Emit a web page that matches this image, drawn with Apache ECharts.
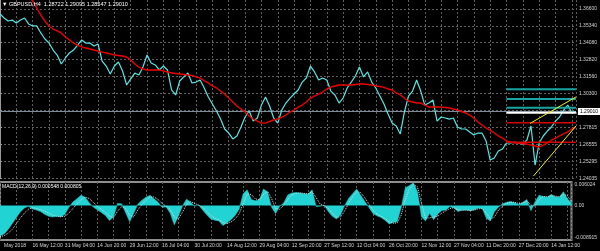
<!DOCTYPE html>
<html>
<head>
<meta charset="utf-8">
<script src="https://cdn.jsdelivr.net/npm/echarts@6/dist/echarts.min.js"></script>
<style>html,body{margin:0;padding:0;background:#000;}#c{width:600px;height:251px;}</style>
</head>
<body>
<div id="c"></div>
<script>
// ---- data ----
const headerOHLC = ['1.28722', '1.29095', '1.28547', '1.29010'];
const macdHeader = ['0.000548', '0.000805'];
const xLabels = ['May 2018','16 May 12:00','31 May 04:00','14 Jun 20:00','29 Jun 12:00','16 Jul 04:00','30 Jul 20:00','14 Aug 12:00','29 Aug 04:00','12 Sep 20:00','27 Sep 12:00','12 Oct 04:00','26 Oct 20:00','12 Nov 12:00','27 Nov 04:00','11 Dec 20:00','27 Dec 20:00','14 Jan 12:00'];
const yTickLabels = ['1.24035','1.25295','1.26555','1.27815','','1.30300','1.31560','1.32820','1.34080','1.35340','1.36600'];
const macdTickLabels = ['-0.008915', '0.00', '0.006024'];

const priceClose = [
1.3625,1.3595,1.3573,1.3580,1.3558,1.3580,1.3595,1.3551,1.3536,1.3536,
1.3484,1.3439,1.3409,1.3357,1.3320,1.3253,1.3298,1.3335,1.3357,1.3394,
1.3432,1.3409,1.3409,1.3387,1.3402,1.3275,1.3238,1.3179,1.3238,1.3268,
1.3201,1.3097,1.3142,1.3186,1.3171,1.3231,1.3320,1.3261,1.3246,1.3209,
1.3238,1.3209,1.3060,1.3023,1.3127,1.3157,1.3186,1.3112,1.3119,1.3134,
1.3075,1.3008,1.2956,1.2904,1.2844,1.2770,1.2740,1.2696,1.2718,1.2785,
1.2859,1.2904,1.2829,1.2852,1.2948,1.3008,1.2941,1.2852,1.2814,1.2911,
1.2963,1.3000,1.3030,1.3060,1.3119,1.3149,1.3238,1.3194,1.3134,1.3149,
1.3134,1.3052,1.3023,1.2963,1.3000,1.3075,1.3119,1.3164,1.3231,1.3157,
1.3194,1.3119,1.3075,1.3015,1.2956,1.2881,1.2814,1.2792,1.2733,1.2896,
1.3015,1.3052,1.3134,1.3052,1.2948,1.2963,1.2985,1.2829,1.2859,1.2852,
1.2844,1.2852,1.2785,1.2770,1.2770,1.2748,1.2725,1.2740,1.2740,1.2681,
1.2539,1.2554,1.2606,1.2621,1.2666,1.2666,1.2673,1.2666,1.2658,1.2688,
1.2792,1.2502,1.2666,1.2718,1.2755,1.2785,1.2829,1.2859,1.2911,1.2948,
1.2889,1.2901];

const maValues = [null,null,null,null,null,null,null,
1.3759,1.3722,1.3670,1.3617,1.3573,1.3536,1.3513,1.3499,1.3484,1.3454,
1.3432,1.3409,1.3394,1.3380,1.3372,1.3365,1.3357,1.3350,1.3342,1.3335,
1.3328,1.3320,1.3316,1.3313,1.3305,1.3283,1.3253,1.3231,1.3216,1.3209,
1.3209,1.3209,1.3209,1.3201,1.3194,1.3186,1.3183,1.3179,1.3175,1.3171,
1.3168,1.3157,1.3149,1.3127,1.3112,1.3090,1.3075,1.3052,1.3030,1.3000,
1.2971,1.2941,1.2919,1.2896,1.2867,1.2844,1.2829,1.2814,1.2814,1.2826,
1.2837,1.2844,1.2859,1.2874,1.2896,1.2911,1.2933,1.2948,1.2971,1.3000,
1.3015,1.3030,1.3045,1.3067,1.3082,1.3090,1.3097,1.3097,1.3097,1.3097,
1.3101,1.3105,1.3105,1.3101,1.3097,1.3090,1.3086,1.3079,1.3067,1.3060,
1.3038,1.3023,1.3000,1.2978,1.2971,1.2963,1.2963,1.2948,1.2933,1.2933,
1.2933,1.2933,1.2930,1.2926,1.2919,1.2911,1.2900,1.2889,1.2874,1.2852,
1.2822,1.2800,1.2777,1.2762,1.2740,1.2718,1.2703,1.2681,1.2673,1.2666,
1.2666,1.2662,1.2658,1.2651,1.2644,1.2636,1.2651,1.2666,1.2688,1.2703,
1.2718,1.2733,1.2748,1.2770,1.2785];

const macdHist = [
-0.0078,-0.0074,-0.0062,-0.0047,-0.0032,-0.0017,-0.0007,-0.0002,-0.0009,-0.0012,
-0.0016,-0.0023,-0.0028,-0.0030,-0.0028,-0.0030,-0.0023,-0.0005,0.0009,0.0017,
0.0026,0.0021,0.0007,-0.0004,-0.0011,-0.0018,-0.0026,-0.0039,-0.0030,0.0005,
0.0004,-0.0019,-0.0042,-0.0020,0.0003,0.0013,0.0021,0.0026,0.0017,0.0008,
-0.0005,-0.0004,-0.0020,-0.0050,-0.0028,-0.0002,0.0016,0.0009,-0.0002,0.0001,
-0.0012,-0.0024,-0.0035,-0.0038,-0.0040,-0.0052,-0.0045,-0.0037,-0.0026,-0.0010,
0.0030,0.0040,0.0015,0.0012,0.0014,0.0042,0.0035,-0.0005,-0.0021,-0.0002,
0.0006,0.0027,0.0032,0.0033,0.0032,0.0030,0.0029,0.0040,-0.0003,-0.0002,
0.0001,-0.0016,-0.0028,-0.0035,-0.0025,-0.0001,0.0018,0.0030,0.0042,0.0026,
0.0010,-0.0005,-0.0021,-0.0027,-0.0031,-0.0038,-0.0048,-0.0044,-0.0042,-0.0005,
0.0045,0.0051,0.0058,0.0035,-0.0030,-0.0040,-0.0020,-0.0037,-0.0022,-0.0013,
-0.0012,-0.0003,-0.0007,-0.0016,-0.0012,-0.0012,-0.0014,-0.0011,-0.0007,-0.0008,
-0.0033,-0.0040,-0.0016,-0.0004,0.0004,0.0008,0.0010,0.0007,0.0002,0.0008,
0.0015,-0.0014,0.0009,0.0026,0.0023,0.0021,0.0028,0.0022,0.0021,0.0035,
0.0017,0.0006];

const macdSignal = [
-0.0080,-0.0078,-0.0072,-0.0062,-0.0048,-0.0033,-0.0020,-0.0010,-0.0006,-0.0008,
-0.0011,-0.0015,-0.0020,-0.0025,-0.0028,-0.0029,-0.0028,-0.0020,-0.0008,0.0004,
0.0015,0.0021,0.0018,0.0008,-0.0002,-0.0010,-0.0018,-0.0027,-0.0032,-0.0015,
-0.0003,-0.0008,-0.0025,-0.0030,-0.0012,0.0002,0.0013,0.0021,0.0022,0.0015,
0.0005,-0.0002,-0.0010,-0.0030,-0.0035,-0.0018,0.0002,0.0010,0.0005,0.0001,
-0.0005,-0.0015,-0.0026,-0.0033,-0.0037,-0.0044,-0.0047,-0.0043,-0.0035,-0.0022,
0.0005,0.0030,0.0028,0.0017,0.0014,0.0028,0.0036,0.0018,-0.0008,-0.0010,
0.0000,0.0015,0.0027,0.0031,0.0032,0.0031,0.0030,0.0035,0.0020,0.0003,
-0.0001,-0.0008,-0.0020,-0.0030,-0.0030,-0.0015,0.0005,0.0022,0.0035,0.0033,
0.0020,0.0004,-0.0012,-0.0022,-0.0028,-0.0034,-0.0042,-0.0046,-0.0045,-0.0025,
0.0015,0.0042,0.0053,0.0048,0.0005,-0.0033,-0.0032,-0.0030,-0.0028,-0.0020,
-0.0014,-0.0008,-0.0006,-0.0011,-0.0013,-0.0012,-0.0013,-0.0012,-0.0009,-0.0008,
-0.0020,-0.0035,-0.0030,-0.0012,-0.0002,0.0005,0.0008,0.0008,0.0005,0.0006,
0.0011,0.0001,-0.0002,0.0015,0.0023,0.0022,0.0025,0.0024,0.0022,0.0028,
0.0025,0.0010];

const bidPrice = 1.29010;
const tealLevels = [1.3065, 1.2993, 1.2928];
const whiteLevels = [1.2891];
const redLevels = [1.2817, 1.2671];
const levelSpan = [124, 141];
const trendUpperX = [129.8, 141], trendUpperY = [1.2812, 1.3008];
const trendLowerX = [130.6, 141], trendLowerY = [1.2420, 1.2792];

// ---- chart ----
const FONT = 'Liberation Sans';
const TXT = '#d4d4d4';
const GRIDC = '#5e5e5e';
const idx = a => a.map((v, i) => [i, v]);

function levelSeries(levels, color, width) {
  return levels.map(l => ({
    type: 'line', xAxisIndex: 0, yAxisIndex: 0, silent: true, showSymbol: false, z: 5,
    data: levelSpan.map(x => [x, l]),
    lineStyle: { color: color, width: width }
  }));
}
function trendSeries(xs, ys) {
  return {
    type: 'line', xAxisIndex: 0, yAxisIndex: 0, silent: true, showSymbol: false, z: 6,
    data: xs.map((x, i) => [x, ys[i]]),
    lineStyle: { color: '#f2f200', width: 1 }
  };
}

const xCommon = {
  type: 'value', min: 0, max: 141, interval: 4,
  axisLine: { show: false }, axisTick: { show: false },
  splitLine: { show: true, lineStyle: { color: GRIDC, type: [2, 2], width: 1 } }
};

const chart = echarts.init(document.getElementById('c'), null, { renderer: 'canvas' });
chart.setOption({
  backgroundColor: '#000',
  animation: false,
  title: [
    { text: '\u25BC GBPUSD,H4  ' + headerOHLC.join(' '), left: 1, top: 0, padding: 1,
      textStyle: { color: '#ffffff', fontSize: 5.5, fontWeight: 'normal', fontFamily: FONT } },
    { text: 'MACD(12,26,9) ' + macdHeader.join(' '), left: 1, top: 183, padding: 1,
      textStyle: { color: '#ffffff', fontSize: 5, fontWeight: 'normal', fontFamily: FONT } }
  ],
  grid: [
    { left: -2, width: 578, top: 0, height: 178.3 },
    { left: -2, width: 578, top: 182, height: 58, show: true, borderColor: '#8e8e8e', borderWidth: 2 }
  ],
  xAxis: [
    Object.assign({}, xCommon, { gridIndex: 0, axisLabel: { show: false } }),
    Object.assign({}, xCommon, { gridIndex: 1,
      axisLabel: { show: true, color: TXT, fontSize: 5, fontFamily: FONT, align: 'left', margin: 3,
        formatter: v => {
          if (v % 8 !== 0) return '';
          const t = xLabels[v / 8];
          if (t === undefined) return '';
          return v === 0 ? '{f|' + t + '}' : t;
        },
        rich: { f: { padding: [0, 0, 0, 4], color: TXT, fontSize: 5, fontFamily: FONT } }
      } })
  ],
  yAxis: [
    { gridIndex: 0, type: 'value', position: 'right', min: 1.24035, max: 1.3729, interval: 0.0126,
      axisLine: { show: true, lineStyle: { color: '#9a9a9a', width: 1 } },
      axisTick: { show: true, length: 2, lineStyle: { color: '#9a9a9a' } },
      axisLabel: { color: TXT, fontSize: 5, fontFamily: FONT, margin: 3, showMaxLabel: false,
        formatter: v => { const k = Math.round((v - 1.24035) / 0.0126); return yTickLabels[k] || ''; } },
      splitLine: { show: true, showMaxLine: false, lineStyle: { color: GRIDC, type: [2, 2], width: 1 } }
    },
    { gridIndex: 1, type: 'value', position: 'right', min: -0.008915, max: 0.006024, interval: 0.008915,
      axisLine: { show: false }, axisTick: { show: false },
      axisLabel: { color: TXT, fontSize: 5, fontFamily: FONT, margin: 3,
        verticalAlignMinLabel: 'bottom', verticalAlignMaxLabel: 'top',
        formatter: v => v < -0.001 ? macdTickLabels[0] : (v > 0.001 ? macdTickLabels[2] : macdTickLabels[1]) },
      splitLine: { show: false }
    }
  ],
  series: [
    { name: 'GBPUSD', type: 'line', xAxisIndex: 0, yAxisIndex: 0, showSymbol: false, z: 3,
      data: idx(priceClose), lineStyle: { color: '#56e6e6', width: 1.2 },
      markLine: { silent: true, symbol: 'none', z: 2, data: [{ yAxis: bidPrice }],
        lineStyle: { color: '#7d8a98', width: 1, type: 'solid' },
        label: { show: true, position: 'end', distance: 2, formatter: () => bidPrice.toFixed(5),
          backgroundColor: '#ffffff', color: '#000000', fontSize: 5, fontFamily: FONT, padding: [1, 2] } }
    },
    { name: 'MA', type: 'line', xAxisIndex: 0, yAxisIndex: 0, showSymbol: false, z: 4,
      data: idx(maValues), lineStyle: { color: '#ee0000', width: 1.4 } },
    ...levelSeries(tealLevels, '#19a3a3', 2),
    ...levelSeries(whiteLevels, '#ffffff', 2),
    ...levelSeries(redLevels, '#d40000', 1.5),
    trendSeries(trendUpperX, trendUpperY),
    trendSeries(trendLowerX, trendLowerY),
    { name: 'MACD', type: 'line', xAxisIndex: 1, yAxisIndex: 1, showSymbol: false, z: 3,
      data: idx(macdHist), lineStyle: { color: '#22d3d3', width: 0.5 },
      areaStyle: { color: '#22d3d3', opacity: 1 } },
    { name: 'Signal', type: 'line', xAxisIndex: 1, yAxisIndex: 1, showSymbol: false, z: 4,
      data: idx(macdSignal), lineStyle: { color: '#d8d8d8', width: 1, type: 'dotted' } }
  ]
});
</script>
</body>
</html>
